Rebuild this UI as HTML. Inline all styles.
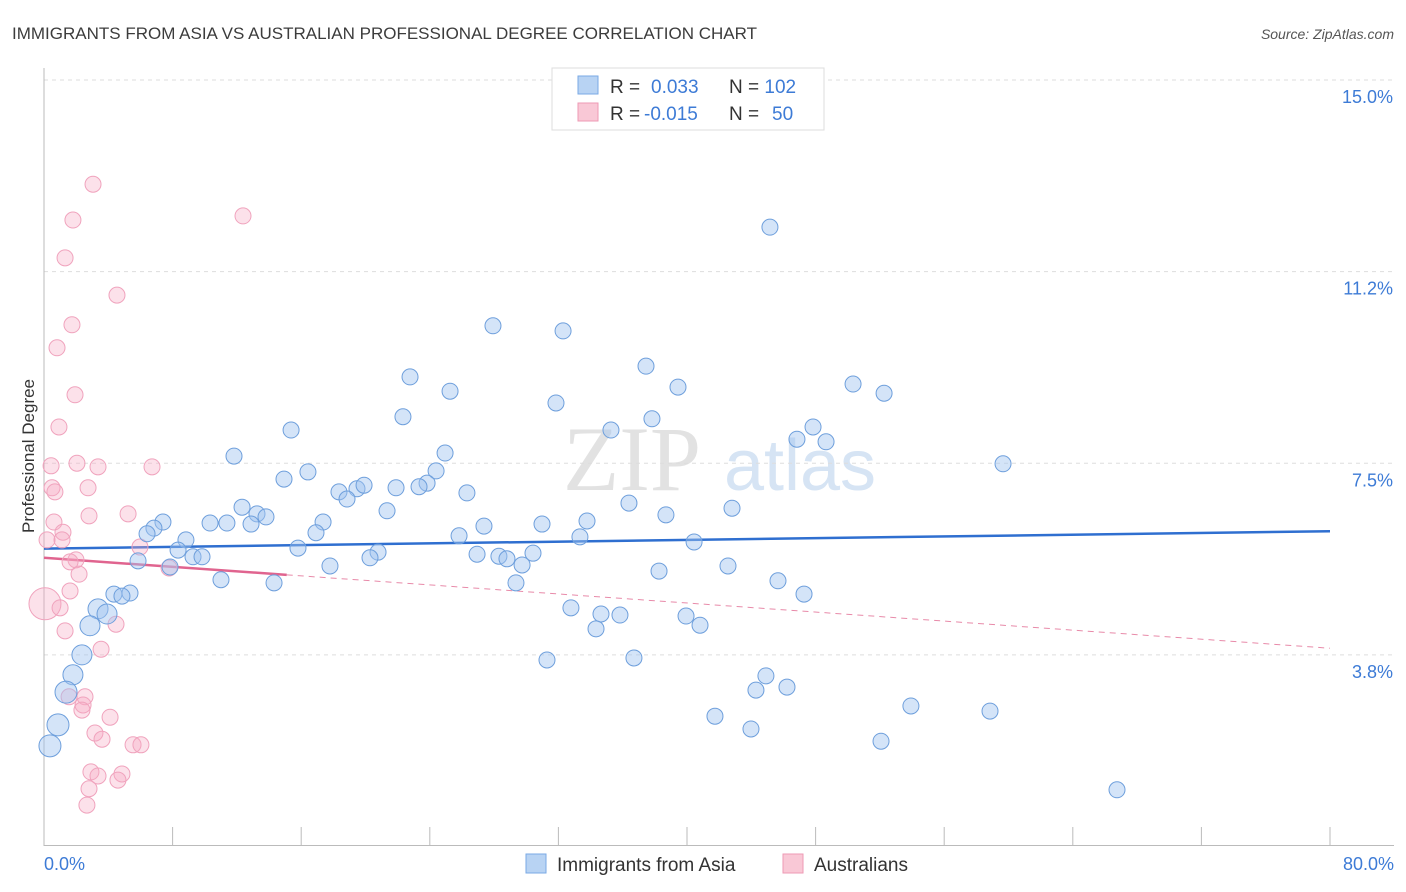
<!DOCTYPE html>
<html><head><meta charset="utf-8"><style>
body{margin:0;background:#fff;font-family:"Liberation Sans",sans-serif;}
svg{display:block}
</style></head><body>
<svg id="chart" width="1406" height="892" viewBox="0 0 1406 892">
<text x="12" y="39" font-size="17" fill="#3c3c3c">IMMIGRANTS FROM ASIA VS AUSTRALIAN PROFESSIONAL DEGREE CORRELATION CHART</text>
<text x="1394" y="39" font-size="14" fill="#555" font-style="italic" text-anchor="end">Source: ZipAtlas.com</text>
<g>
<text x="632" y="490" font-size="92" fill="#e2e2e2" font-family="Liberation Serif,serif" text-anchor="middle">ZIP</text>
<text x="800" y="490" font-size="72" fill="#d6e4f4" text-anchor="middle">atlas</text>
</g>
<g id="grid"></g>
<g id="axes"></g>
<g id="trends"></g>
<g id="points"></g>
<text x="34" y="456" font-size="17" fill="#333" transform="rotate(-90 34 456)" text-anchor="middle">Professional Degree</text>
<text x="44" y="870" font-size="18" fill="#3d7bd6">0.0%</text>
<text x="1394" y="870" font-size="18" fill="#3d7bd6" text-anchor="end">80.0%</text>
<g>
<rect x="552" y="68" width="272" height="62" fill="#fff" stroke="#ddd"/>
<rect x="578" y="76" width="20" height="18" fill="#b8d3f3" stroke="#7aa9e4"/>
<rect x="578" y="103" width="20" height="18" fill="#f9c8d6" stroke="#ee9ab4"/>
<text x="610" y="93" font-size="19" fill="#333">R = <tspan fill="#3d7bd6" x="651">0.033</tspan><tspan x="729">N = </tspan><tspan fill="#3d7bd6">102</tspan></text>
<text x="610" y="120" font-size="19" fill="#333">R = <tspan fill="#3d7bd6" x="644">-0.015</tspan><tspan x="729">N = </tspan><tspan fill="#3d7bd6" x="772">50</tspan></text>
</g>
<g>
<rect x="526" y="854" width="20" height="19" fill="#b8d3f3" stroke="#7aa9e4"/>
<text x="557" y="871" font-size="19" fill="#333">Immigrants from Asia</text>
<rect x="783" y="854" width="20" height="19" fill="#f9c8d6" stroke="#ee9ab4"/>
<text x="814" y="871" font-size="19" fill="#333">Australians</text>
</g>
</svg>
<script>
const yTicks=[3.75,7.5,11.25,15];
const yTickLabels=["3.8%","7.5%","11.2%","15.0%"];
const xTicks=[0,8,16,24,32,40,48,56,64,72,80];
const asiaX=[45.16,27.93,32.29,37.45,39.44,50.33,52.26,22.77,25.26,31.85,22.33,37.82,15.37,35.27,46.84,47.84,48.65,11.82,24.95,59.66,16.42,14.93,24.39,23.83,23.33,21.90,18.35,19.47,19.91,18.85,26.31,36.39,12.32,21.34,13.25,13.81,38.69,42.80,7.40,6.84,10.33,11.38,12.88,17.36,27.37,30.98,33.78,6.41,25.82,33.34,16.92,8.83,40.44,8.34,15.80,20.78,26.94,28.30,30.42,9.27,9.83,20.28,28.80,29.74,17.79,5.85,7.84,42.55,38.26,11.01,14.31,29.36,45.66,47.28,4.35,5.35,4.85,3.36,3.92,32.78,34.65,35.83,39.94,40.81,34.34,2.86,2.36,31.29,36.70,1.80,44.91,44.29,46.22,1.37,53.93,58.85,41.74,43.98,0.87,52.07,0.37,66.75];
const asiaY=[12.12,10.19,10.09,9.40,8.99,9.05,8.87,9.19,8.91,8.68,8.41,8.37,8.15,8.15,7.97,8.21,7.92,7.64,7.70,7.49,7.33,7.19,7.35,7.11,7.04,7.02,6.94,7.00,7.07,6.80,6.92,6.72,6.64,6.57,6.51,6.45,6.49,6.62,6.35,6.23,6.33,6.33,6.31,6.35,6.27,6.31,6.37,6.12,6.08,6.06,6.14,6.00,5.96,5.80,5.84,5.76,5.72,5.68,5.74,5.67,5.67,5.65,5.63,5.51,5.49,5.59,5.47,5.49,5.39,5.22,5.16,5.16,5.20,4.94,4.94,4.96,4.90,4.65,4.55,4.67,4.55,4.53,4.51,4.33,4.26,4.32,3.75,3.65,3.69,3.36,3.34,3.06,3.12,3.02,2.75,2.65,2.55,2.30,2.38,2.06,1.97,1.11];
const ausX=[3.05,1.80,12.38,1.31,4.54,1.74,0.81,1.93,0.93,0.44,3.36,6.72,2.05,0.50,0.68,2.74,5.23,2.80,0.62,1.18,0.19,1.12,5.97,1.99,1.62,2.18,7.78,0.06,1.62,1.00,4.48,1.31,3.55,1.56,2.55,2.43,2.36,4.11,3.17,3.61,5.54,6.03,2.92,3.36,4.85,4.60,2.80,2.67];
const ausY=[12.96,12.26,12.34,11.52,10.79,10.21,9.76,8.84,8.21,7.45,7.43,7.43,7.50,7.02,6.94,7.02,6.51,6.47,6.35,6.15,6.00,6.00,5.86,5.61,5.57,5.33,5.45,4.75,5.00,4.67,4.35,4.22,3.86,2.93,2.93,2.77,2.67,2.53,2.22,2.10,1.99,1.99,1.46,1.38,1.42,1.30,1.13,0.81];
const asiaTrend=[5.83,6.17];
const ausTrend=[5.65,3.88];
const ausSolidEnd=15.1;

const NS="http://www.w3.org/2000/svg";
const X0=44,X1=1330,Y15=80,PX_Y=51.1;
function sx(v){return X0+(X1-X0)*v/80;}
function sy(v){return Y15+(15-v)*PX_Y;}
function mk(tag,attrs,parent){const e=document.createElementNS(NS,tag);for(const k in attrs)e.setAttribute(k,attrs[k]);parent.appendChild(e);return e;}
const grid=document.getElementById('grid'),axes=document.getElementById('axes'),trends=document.getElementById('trends'),pts=document.getElementById('points');
yTicks.forEach((t,i)=>{
  const l=mk('line',{x1:44,x2:1394,y1:sy(t),y2:sy(t),stroke:'#ddd','stroke-dasharray':'4,4'},grid);
  
  
  const tx=mk('text',{x:1393,y:sy(t)+23,'font-size':18,fill:'#3d7bd6','text-anchor':'end'},grid);
  tx.textContent=yTickLabels[i];
  
  
});
const ya=mk('line',{x1:44,x2:44,y1:68,y2:846,stroke:'#bbb'},axes);


const xa=mk('line',{x1:44,x2:1394,y1:845.5,y2:845.5,stroke:'#bbb'},axes);


xTicks.forEach(t=>{
  const l=mk('line',{x1:sx(t),x2:sx(t),y1:827,y2:846,stroke:'#bbb'},axes);
  
  
});
function dot(x,y,fill,stroke,r,name){
  const c=mk('circle',{cx:sx(x),cy:sy(y),r:r,fill:fill,stroke:stroke,'stroke-width':1},pts);
  
  
}
ausX.forEach((x,i)=>{dot(x,ausY[i],'rgba(246,170,196,0.35)','#f0a3bd',i===27?16:8,'australians-point');});
asiaX.forEach((x,i)=>{dot(x,asiaY[i],'rgba(160,196,240,0.45)','#6e9fdc',x<4?(x<1.5?11:10):8,'asia-point');});
const bt=mk('line',{x1:sx(0),y1:sy(asiaTrend[0]),x2:sx(80),y2:sy(asiaTrend[1]),stroke:'#2f6fd0','stroke-width':2.5},trends);


const ym=ausTrend[0]+(ausTrend[1]-ausTrend[0])*ausSolidEnd/80;
const pt=mk('line',{x1:sx(0),y1:sy(ausTrend[0]),x2:sx(ausSolidEnd),y2:sy(ym),stroke:'#e0648f','stroke-width':2.5},trends);


const pd=mk('line',{x1:sx(ausSolidEnd),y1:sy(ym),x2:sx(80),y2:sy(ausTrend[1]),stroke:'#e88aa9','stroke-width':1,'stroke-dasharray':'6,5'},trends);


</script>
</body></html>
